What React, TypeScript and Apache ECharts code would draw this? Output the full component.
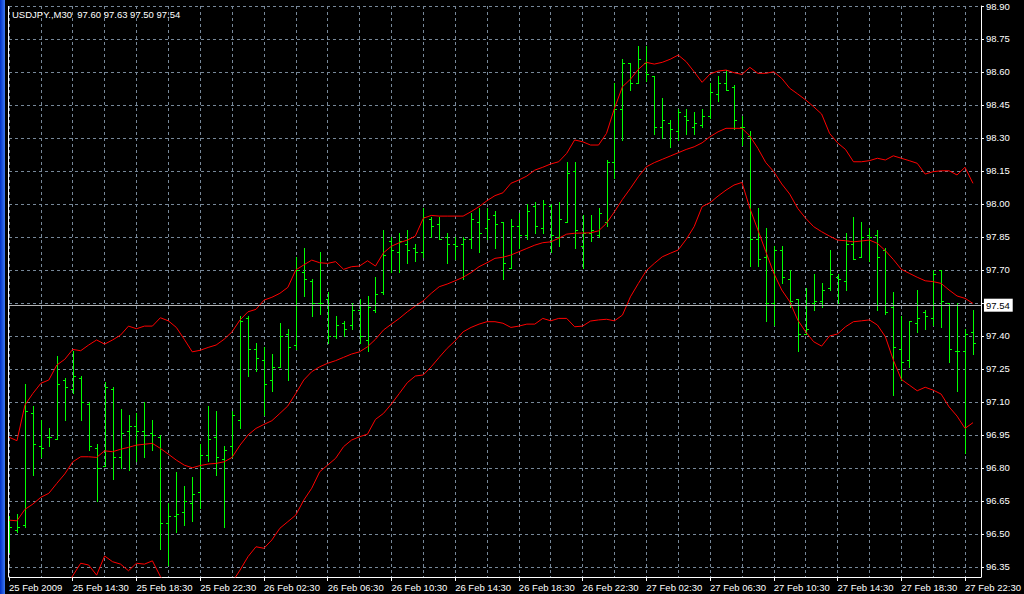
import React, { useEffect, useRef } from "react";
import * as echarts from "echarts";

const titleText = "USDJPY.,M30  97.60 97.63 97.50 97.54";

const xLabels = [
  "25 Feb 2009", "25 Feb 14:30", "25 Feb 18:30", "25 Feb 22:30",
  "26 Feb 02:30", "26 Feb 06:30", "26 Feb 10:30", "26 Feb 14:30",
  "26 Feb 18:30", "26 Feb 22:30", "27 Feb 02:30", "27 Feb 06:30",
  "27 Feb 10:30", "27 Feb 14:30", "27 Feb 18:30", "27 Feb 22:30",
];

const opens = [
  96.56, 96.52, 96.54, 97.05, 96.90, 96.94, 96.93, 97.20, 97.16, 97.21,
  97.09, 96.89, 96.81, 97.16, 96.85, 96.97, 96.99, 96.97, 96.96, 96.94,
  96.55, 96.58, 96.60, 96.64, 96.69, 96.86, 96.94, 96.84, 96.90, 97.02,
  97.48, 97.34, 97.29, 97.20, 97.26, 97.41, 97.36, 97.69, 97.65, 97.55,
  97.57, 97.40, 97.46, 97.45, 97.52, 97.38, 97.52, 97.60, 97.83, 97.78,
  97.82, 97.80, 97.78, 97.93, 97.91, 97.85, 97.82, 97.82, 97.84, 97.92,
  97.89, 97.95, 97.92, 97.71, 97.90, 97.86, 97.99, 97.89, 97.99, 97.85,
  97.92, 98.15, 97.81, 97.87, 97.86, 97.92, 98.19, 98.43, 98.64, 98.55,
  98.64, 98.58, 98.35, 98.37, 98.33, 98.40, 98.35, 98.36, 98.40, 98.50,
  98.55, 98.53, 98.35, 98.31, 97.84, 97.76, 97.55, 97.79, 97.66, 97.57,
  97.41, 97.55, 97.56, 97.62, 97.67, 97.65, 97.82, 97.76, 97.86, 97.86,
  97.79, 97.53, 97.34, 97.29, 97.46, 97.51, 97.48, 97.70, 97.55, 97.33,
  97.33, 97.42,
];
const highs = [
  96.58, 96.59, 97.18, 97.08, 97.02, 96.98, 97.31, 97.21, 97.33, 97.22,
  97.10, 96.91, 97.19, 97.17, 97.07, 97.04, 97.05, 97.10, 97.02, 96.95,
  96.64, 96.78, 96.72, 96.76, 96.91, 97.08, 97.06, 96.90, 97.06, 97.49,
  97.49, 97.37, 97.35, 97.32, 97.46, 97.43, 97.76, 97.80, 97.66, 97.78,
  97.60, 97.49, 97.47, 97.55, 97.57, 97.58, 97.67, 97.88, 97.85, 97.87,
  97.88, 97.82, 97.98, 97.94, 97.94, 97.87, 97.85, 97.85, 97.96, 97.98,
  97.98, 97.97, 97.92, 97.93, 97.96, 98.00, 98.01, 98.02, 98.00, 98.01,
  98.19, 98.19, 97.95, 97.95, 97.98, 98.20, 98.55, 98.66, 98.64, 98.72,
  98.72, 98.58, 98.48, 98.38, 98.43, 98.43, 98.42, 98.43, 98.55, 98.58,
  98.61, 98.54, 98.40, 98.33, 97.98, 97.89, 97.81, 97.81, 97.70, 97.57,
  97.62, 97.68, 97.64, 97.79, 97.68, 97.87, 97.94, 97.92, 97.89, 97.88,
  97.80, 97.60, 97.49, 97.47, 97.61, 97.52, 97.70, 97.70, 97.55, 97.55,
  97.43, 97.52,
];
const lows = [
  96.42, 96.51, 96.53, 96.77, 96.85, 96.90, 96.93, 97.02, 97.14, 97.02,
  96.88, 96.65, 96.81, 96.75, 96.80, 96.79, 96.83, 96.85, 96.88, 96.43,
  96.36, 96.51, 96.54, 96.56, 96.62, 96.83, 96.77, 96.53, 96.85, 96.98,
  97.22, 97.24, 97.04, 97.15, 97.26, 97.20, 97.34, 97.58, 97.49, 97.50,
  97.37, 97.39, 97.40, 97.43, 97.37, 97.33, 97.51, 97.59, 97.69, 97.69,
  97.73, 97.74, 97.76, 97.85, 97.84, 97.73, 97.75, 97.66, 97.80, 97.78,
  97.84, 97.80, 97.66, 97.71, 97.80, 97.84, 97.87, 97.87, 97.78, 97.81,
  97.92, 97.80, 97.71, 97.83, 97.85, 97.90, 98.12, 98.29, 98.52, 98.55,
  98.56, 98.32, 98.30, 98.26, 98.29, 98.32, 98.32, 98.35, 98.39, 98.47,
  98.52, 98.34, 98.27, 97.72, 97.72, 97.47, 97.45, 97.64, 97.53, 97.33,
  97.41, 97.52, 97.53, 97.61, 97.55, 97.61, 97.75, 97.76, 97.74, 97.52,
  97.50, 97.13, 97.20, 97.26, 97.42, 97.43, 97.45, 97.44, 97.28, 97.15,
  96.87, 97.32,
];
const closes = [
  96.53, 96.53, 97.06, 96.91, 96.89, 96.94, 97.18, 97.17, 97.22, 97.10,
  96.90, 96.80, 97.17, 96.85, 96.96, 96.99, 96.97, 96.95, 96.95, 96.55,
  96.58, 96.59, 96.65, 96.68, 96.86, 96.93, 96.85, 96.88, 97.04, 97.47,
  97.34, 97.30, 97.18, 97.26, 97.40, 97.35, 97.70, 97.66, 97.55, 97.55,
  97.40, 97.45, 97.43, 97.52, 97.40, 97.53, 97.59, 97.77, 97.79, 97.83,
  97.79, 97.78, 97.94, 97.90, 97.84, 97.82, 97.81, 97.84, 97.93, 97.87,
  97.93, 97.91, 97.73, 97.90, 97.86, 97.97, 97.90, 98.00, 97.86, 97.93,
  98.14, 97.88, 97.87, 97.88, 97.96, 98.19, 98.43, 98.64, 98.55, 98.66,
  98.59, 98.35, 98.38, 98.34, 98.42, 98.38, 98.37, 98.40, 98.51, 98.55,
  98.52, 98.38, 98.35, 97.84, 97.75, 97.55, 97.79, 97.67, 97.56, 97.41,
  97.43, 97.56, 97.61, 97.68, 97.66, 97.82, 97.75, 97.85, 97.85, 97.76,
  97.51, 97.35, 97.28, 97.47, 97.48, 97.49, 97.68, 97.56, 97.34, 97.33,
  97.41, 97.37,
];

const upperBand = [
  96.940, 96.924, 97.086, 97.139, 97.185, 97.200, 97.268, 97.294, 97.339, 97.333,
  97.359, 97.382, 97.363, 97.382, 97.404, 97.445, 97.433, 97.445, 97.445, 97.483,
  97.469, 97.439, 97.385, 97.328, 97.335, 97.348, 97.359, 97.385, 97.419, 97.473,
  97.510, 97.521, 97.563, 97.576, 97.594, 97.621, 97.700, 97.723, 97.745, 97.733,
  97.730, 97.738, 97.703, 97.715, 97.718, 97.742, 97.718, 97.778, 97.808, 97.824,
  97.836, 97.854, 97.935, 97.948, 97.945, 97.945, 97.945, 97.945, 97.965, 97.988,
  98.015, 98.038, 98.051, 98.094, 98.109, 98.127, 98.154, 98.167, 98.182, 98.192,
  98.230, 98.291, 98.283, 98.268, 98.268, 98.321, 98.435, 98.533, 98.567, 98.612,
  98.644, 98.636, 98.644, 98.658, 98.677, 98.647, 98.601, 98.553, 98.591, 98.604,
  98.609, 98.597, 98.589, 98.621, 98.594, 98.594, 98.601, 98.571, 98.526, 98.500,
  98.473, 98.442, 98.409, 98.321, 98.278, 98.248, 98.192, 98.192, 98.197, 98.208,
  98.200, 98.219, 98.208, 98.197, 98.185, 98.136, 98.147, 98.151, 98.151, 98.132,
  98.167, 98.094,
];
const middleBand = [
  96.563, 96.560, 96.612, 96.636, 96.667, 96.685, 96.730, 96.773, 96.828, 96.851,
  96.851, 96.848, 96.878, 96.874, 96.885, 96.894, 96.904, 96.908, 96.912, 96.889,
  96.863, 96.836, 96.813, 96.801, 96.811, 96.818, 96.821, 96.828, 96.848, 96.904,
  96.950, 96.980, 96.998, 97.015, 97.048, 97.082, 97.139, 97.200, 97.238, 97.260,
  97.276, 97.288, 97.303, 97.318, 97.328, 97.351, 97.385, 97.427, 97.454, 97.480,
  97.510, 97.536, 97.560, 97.594, 97.624, 97.636, 97.651, 97.667, 97.688, 97.715,
  97.733, 97.753, 97.758, 97.768, 97.783, 97.798, 97.813, 97.824, 97.828, 97.844,
  97.863, 97.867, 97.868, 97.869, 97.878, 97.912, 97.965, 98.021, 98.071, 98.124,
  98.169, 98.188, 98.203, 98.218, 98.233, 98.248, 98.260, 98.278, 98.306, 98.328,
  98.344, 98.344, 98.344, 98.309, 98.253, 98.188, 98.147, 98.091, 98.045, 97.980,
  97.935, 97.897, 97.874, 97.854, 97.836, 97.833, 97.828, 97.832, 97.836, 97.821,
  97.788, 97.748, 97.703, 97.685, 97.667, 97.651, 97.647, 97.639, 97.609, 97.582,
  97.571, 97.548,
];
// null = below the visible price range (not drawn)
const lowerBand: (number | null)[] = [
  null, null, null, null, null, null, null, 96.250, 96.310, 96.367,
  96.359, 96.313, 96.400, 96.374, 96.363, 96.333, 96.367, 96.363, 96.378, 96.307,
  96.260, null, null, null, null, null, null, null, 96.280, 96.336,
  96.397, 96.442, 96.435, 96.473, 96.526, 96.556, 96.586, 96.654, 96.708, 96.783,
  96.813, 96.844, 96.897, 96.927, 96.942, 96.954, 97.021, 97.048, 97.091, 97.139,
  97.188, 97.218, 97.223, 97.260, 97.303, 97.344, 97.378, 97.419, 97.439, 97.454,
  97.465, 97.465, 97.458, 97.439, 97.445, 97.454, 97.454, 97.480, 97.469, 97.480,
  97.480, 97.442, 97.445, 97.468, 97.473, 97.476, 97.469, 97.495, 97.578, 97.639,
  97.697, 97.730, 97.760, 97.776, 97.791, 97.839, 97.897, 97.988, 98.006, 98.036,
  98.063, 98.086, 98.098, 97.980, 97.882, 97.783, 97.685, 97.609, 97.556, 97.473,
  97.419, 97.374, 97.354, 97.400, 97.409, 97.442, 97.465, 97.469, 97.473, 97.450,
  97.397, 97.291, 97.203, 97.177, 97.151, 97.167, 97.154, 97.136, 97.078, 97.036,
  96.980, 97.006,
];

const lastPrice = 97.54;
const priceTop = 98.9;
const priceBottom = 96.3045;
const priceStep = 0.15;
const barsPerLabel = 8;
const barsPerGrid = 4;

export default function App() {
  const ref = useRef<HTMLDivElement>(null);

  useEffect(() => {
    document.body.style.margin = "0";
    document.body.style.background = "#000";
    const chart = echarts.init(ref.current!, null, { renderer: "svg" });
    const font = "'Liberation Sans', Arial, sans-serif";
    const gridColor = "#778899";
    const nBars = opens.length;
    const ohlc = opens.map((o, i) => [i, o, highs[i], lows[i], closes[i]]);
    const toLine = (arr: (number | null)[]) =>
      arr.map((v, i) => [i, v === null ? "-" : v]);

    const bandStyle = { color: "#ff0000", width: 1 };

    chart.setOption({
      animation: false,
      backgroundColor: "#000000",
      textStyle: { fontFamily: font },
      title: {
        text: titleText,
        left: 12,
        top: 9,
        padding: 0,
        textStyle: {
          color: "#ffffff",
          fontSize: 9.5,
          fontWeight: "normal",
          fontFamily: font,
        },
      },
      grid: { left: 9, right: 39, top: 6, bottom: 17 },
      xAxis: [
        {
          type: "value",
          position: "bottom",
          min: 0,
          max: nBars,
          interval: barsPerGrid,
          axisLine: { show: true, onZero: false, lineStyle: { color: "#ffffff", width: 1 } },
          axisTick: { show: false },
          axisLabel: { show: false },
          splitLine: {
            show: true,
            lineStyle: { color: gridColor, type: [3, 3], width: 1 },
          },
        },
        {
          type: "value",
          position: "bottom",
          min: 0,
          max: nBars,
          interval: barsPerLabel,
          axisLine: { show: false, onZero: false },
          axisTick: { show: true, length: 4, lineStyle: { color: "#ffffff" } },
          axisLabel: {
            show: true,
            color: "#ffffff",
            fontSize: 9.5,
            fontFamily: font,
            align: "left",
            verticalAlign: "top",
            margin: 5,
            showMaxLabel: false,
            formatter: (v: number) => {
              const k = Math.round(v / barsPerLabel);
              if (Math.abs(k * barsPerLabel - v) > 1e-6) return "";
              return xLabels[k] ?? "";
            },
          },
          splitLine: { show: false },
        },
      ],
      yAxis: [
        {
          type: "value",
          min: priceBottom,
          max: priceTop,
          show: false,
          splitLine: { show: false },
        },
        {
          type: "value",
          position: "right",
          inverse: true,
          min: 0,
          max: (priceTop - priceBottom) / priceStep,
          interval: 1,
          axisLine: { show: true, onZero: false, lineStyle: { color: "#ffffff", width: 1 } },
          axisTick: { show: true, length: 3, lineStyle: { color: "#ffffff" } },
          axisLabel: {
            show: true,
            color: "#ffffff",
            fontSize: 9.5,
            fontFamily: font,
            margin: 5,
            showMaxLabel: false,
            formatter: (h: number) => {
              if (Math.abs(h - Math.round(h)) > 1e-6) return "";
              const p = priceTop - Math.round(h) * priceStep;
              if (Math.abs(p - 97.55) < 1e-6) return "";
              return p.toFixed(2);
            },
          },
          splitLine: {
            show: true,
            lineStyle: { color: gridColor, type: [3, 3], width: 1 },
          },
        },
      ],
      graphic: [
        {
          type: "rect",
          shape: { x: 0, y: 0, width: 5, height: 594 },
          style: {
            fill: new echarts.graphic.LinearGradient(0, 0, 1, 0, [
              { offset: 0, color: "#0030c8" },
              { offset: 1, color: "#3c78f0" },
            ]),
          },
          silent: true,
        },
        {
          type: "line",
          shape: { x1: 8.5, y1: 6, x2: 8.5, y2: 577 },
          style: { stroke: "#ffffff", lineWidth: 1 },
          silent: true,
        },
      ],
      series: [
        {
          type: "custom",
          xAxisIndex: 0,
          yAxisIndex: 0,
          clip: true,
          silent: true,
          encode: { x: 0, y: [1, 2, 3, 4] },
          data: ohlc,
          renderItem: (_params: any, api: any) => {
            const i = api.value(0);
            const pO = api.coord([i, api.value(1)]);
            const pH = api.coord([i, api.value(2)]);
            const pL = api.coord([i, api.value(3)]);
            const pC = api.coord([i, api.value(4)]);
            const X = Math.round(pO[0]);
            const style = { stroke: "#00ff00", lineWidth: 1, fill: null };
            const yO = Math.round(pO[1]) + 0.5;
            const yC = Math.round(pC[1]) + 0.5;
            return {
              type: "group",
              children: [
                {
                  type: "line",
                  shape: { x1: X + 0.5, y1: Math.round(pH[1]), x2: X + 0.5, y2: Math.round(pL[1]) + 1 },
                  style,
                },
                { type: "line", shape: { x1: X - 2, y1: yO, x2: X, y2: yO }, style },
                { type: "line", shape: { x1: X + 1, y1: yC, x2: X + 3, y2: yC }, style },
              ],
            };
          },
        },
        {
          type: "line",
          name: "upper",
          xAxisIndex: 0,
          yAxisIndex: 0,
          data: toLine(upperBand),
          showSymbol: false,
          symbol: "none",
          clip: true,
          silent: true,
          lineStyle: bandStyle,
          itemStyle: { color: "#ff0000" },
          markLine: {
            silent: true,
            symbol: ["none", "none"],
            lineStyle: { color: "#b4b4b4", width: 1, type: "solid" },
            label: {
              show: true,
              position: "end",
              formatter: lastPrice.toFixed(2),
              backgroundColor: "#ffffff",
              color: "#000000",
              fontSize: 9.5,
              fontFamily: font,
              padding: [2, 3, 1, 2],
              distance: 3,
            },
            data: [{ yAxis: lastPrice }],
          },
        },
        {
          type: "line",
          name: "middle",
          xAxisIndex: 0,
          yAxisIndex: 0,
          data: toLine(middleBand),
          showSymbol: false,
          symbol: "none",
          clip: true,
          silent: true,
          lineStyle: bandStyle,
          itemStyle: { color: "#ff0000" },
        },
        {
          type: "line",
          name: "lower",
          xAxisIndex: 0,
          yAxisIndex: 0,
          data: toLine(lowerBand),
          showSymbol: false,
          symbol: "none",
          clip: true,
          silent: true,
          connectNulls: false,
          lineStyle: bandStyle,
          itemStyle: { color: "#ff0000" },
        },
      ],
    });

    return () => {
      chart.dispose();
    };
  }, []);

  return (
    <div
      ref={ref}
      style={{ width: 1024, height: 594, background: "#000" }}
    />
  );
}
